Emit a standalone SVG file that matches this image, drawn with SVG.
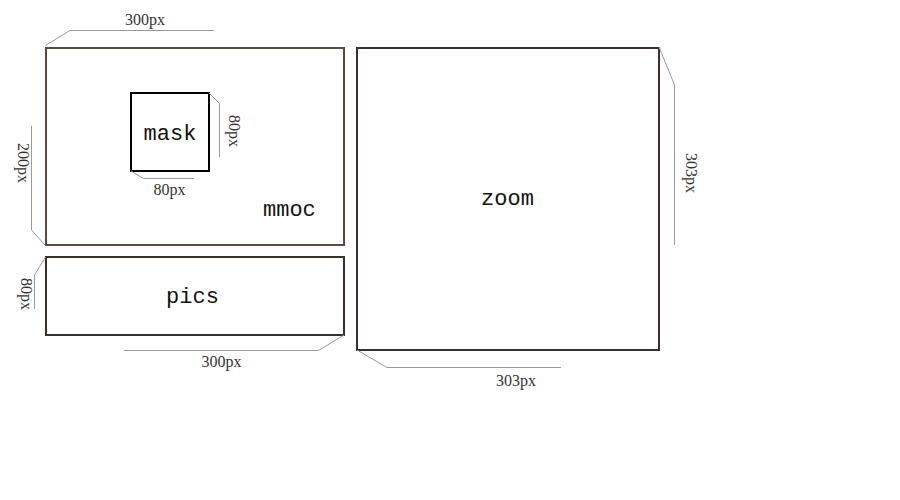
<svg xmlns="http://www.w3.org/2000/svg" width="900" height="500" viewBox="0 0 900 500">
<style>
.box{fill:#fff;stroke-width:2}
.lbl{font-family:"Liberation Mono","DejaVu Sans Mono",monospace;font-size:22px;fill:#111}
.dim{font-family:"Liberation Serif","DejaVu Serif",serif;font-size:16px;fill:#333}
.dl{fill:none;stroke:#999;stroke-width:1}
</style>
<rect width="900" height="500" fill="#fff"/>
<g id="mmoc">
<rect class="box" x="46" y="48" width="298" height="197" stroke="#5a4a3f"/>
<text class="lbl" x="263" y="216">mmoc</text>
</g>
<g id="mask">
<rect class="box" x="131" y="93" width="78" height="78" stroke="#000"/>
<text class="lbl" x="170" y="140" text-anchor="middle">mask</text>
</g>
<g id="pics">
<rect class="box" x="46" y="257" width="298" height="78" stroke="#3a302b"/>
<text class="lbl" x="192.5" y="303" text-anchor="middle">pics</text>
</g>
<g id="zoom">
<rect class="box" x="357" y="48" width="302" height="302" stroke="#3a302b"/>
<text class="lbl" x="507.5" y="205" text-anchor="middle">zoom</text>
</g>
<g id="connectors">
<polyline class="dl" points="45.5,45.5 70,30.5 214,30.5"/>
<polyline class="dl" points="45,245 31.5,230 31.5,126"/>
<polyline class="dl" points="209,93 219.5,103.5 219.5,157"/>
<polyline class="dl" points="131,171 143.5,178.5 194,178.5"/>
<polyline class="dl" points="45.5,257 34.5,275 34.5,309"/>
<polyline class="dl" points="344,335 318.5,350.5 124,350.5"/>
<polyline class="dl" points="659,47 674.5,85 674.5,245"/>
<polyline class="dl" points="357,350 387,367.5 561,367.5"/>
</g>
<g id="dims">
<text class="dim" x="145" y="25" text-anchor="middle">300px</text>
<text class="dim" x="169.5" y="195" text-anchor="middle">80px</text>
<text class="dim" x="221.5" y="367" text-anchor="middle">300px</text>
<text class="dim" x="516" y="386" text-anchor="middle">303px</text>
<text class="dim" transform="translate(229,115) rotate(90)">80px</text>
<text class="dim" transform="translate(17.5,143) rotate(90)">200px</text>
<text class="dim" transform="translate(21,278) rotate(90)">80px</text>
<text class="dim" transform="translate(685.5,153) rotate(90)">303px</text>
</g>
</svg>
